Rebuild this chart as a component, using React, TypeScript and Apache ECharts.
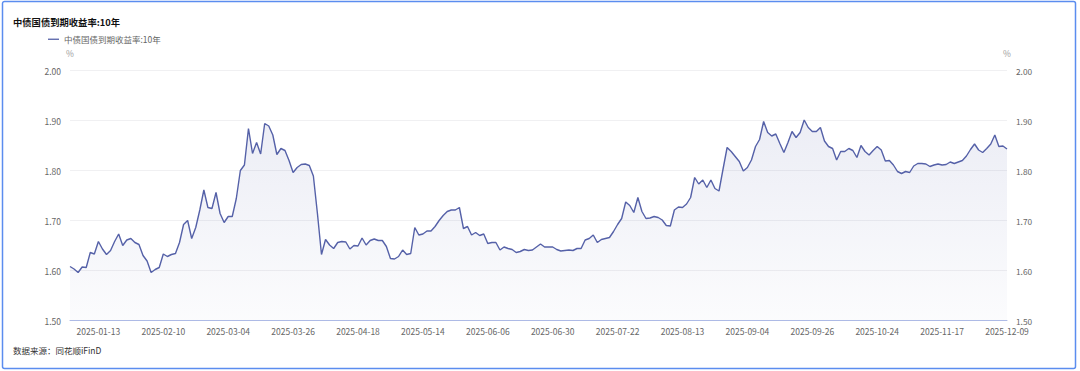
import React, { useEffect, useRef } from "react";
import * as echarts from "echarts";

const TITLE = "中债国债到期收益率:10年";
const SERIES_NAME = "中债国债到期收益率:10年";
const SOURCE = "数据来源：同花顺iFinD";

// Trading calendar 2025 (China interbank): holidays and make-up working days
const HOLIDAYS = [
  "2025-01-01",
  "2025-01-28", "2025-01-29", "2025-01-30", "2025-01-31", "2025-02-03", "2025-02-04",
  "2025-04-04",
  "2025-05-01", "2025-05-02", "2025-05-05",
  "2025-06-02",
  "2025-10-01", "2025-10-02", "2025-10-03", "2025-10-06", "2025-10-07", "2025-10-08",
];
const MAKEUP_DAYS = ["2025-01-26", "2025-02-08", "2025-04-27", "2025-09-28", "2025-10-11"];
const START_DATE = "2025-01-02";
const END_DATE = "2025-12-09";

const Y_MIN = 1.5;
const Y_MAX = 2.0;
const Y_INTERVAL = 0.1;

const yields = [
  1.608, 1.603, 1.596, 1.607, 1.606, 1.636, 1.633, 1.658, 1.643, 1.632,
  1.640, 1.658, 1.673, 1.650, 1.661, 1.664, 1.656, 1.652, 1.630, 1.619,
  1.596, 1.602, 1.606, 1.633, 1.628, 1.632, 1.634, 1.656, 1.692, 1.700,
  1.664, 1.686, 1.721, 1.761, 1.726, 1.724, 1.756, 1.714, 1.696, 1.708,
  1.708, 1.744, 1.800, 1.811, 1.884, 1.834, 1.856, 1.833, 1.894, 1.889,
  1.871, 1.832, 1.844, 1.840, 1.820, 1.796, 1.806, 1.812, 1.813, 1.810,
  1.789, 1.714, 1.632, 1.662, 1.651, 1.644, 1.656, 1.658, 1.657, 1.643,
  1.650, 1.649, 1.665, 1.651, 1.660, 1.663, 1.660, 1.660, 1.648, 1.624,
  1.623, 1.628, 1.641, 1.632, 1.634, 1.686, 1.671, 1.673, 1.679, 1.679,
  1.688, 1.700, 1.710, 1.718, 1.721, 1.721, 1.726, 1.684, 1.688, 1.671,
  1.676, 1.670, 1.673, 1.654, 1.656, 1.656, 1.641, 1.647, 1.644, 1.642,
  1.636, 1.638, 1.642, 1.640, 1.641, 1.647, 1.653, 1.647, 1.647, 1.647,
  1.642, 1.639, 1.640, 1.641, 1.640, 1.644, 1.644, 1.661, 1.664, 1.671,
  1.656, 1.662, 1.664, 1.666, 1.678, 1.692, 1.704, 1.737, 1.730, 1.716,
  1.746, 1.718, 1.704, 1.705, 1.708, 1.706, 1.701, 1.690, 1.689, 1.721,
  1.727, 1.726, 1.733, 1.746, 1.786, 1.773, 1.781, 1.766, 1.781, 1.764,
  1.759, 1.803, 1.846, 1.838, 1.828, 1.818, 1.799, 1.806, 1.821, 1.848,
  1.862, 1.898, 1.876, 1.869, 1.873, 1.854, 1.836, 1.856, 1.878, 1.866,
  1.876, 1.901, 1.886, 1.878, 1.878, 1.886, 1.859, 1.848, 1.844, 1.821,
  1.838, 1.838, 1.844, 1.840, 1.826, 1.850, 1.838, 1.831, 1.840, 1.848,
  1.841, 1.819, 1.820, 1.811, 1.798, 1.794, 1.798, 1.796, 1.809, 1.814,
  1.814, 1.813, 1.808, 1.811, 1.813, 1.811, 1.812, 1.817, 1.814, 1.817,
  1.820, 1.829, 1.842, 1.853, 1.841, 1.836, 1.844, 1.853, 1.871, 1.848,
  1.849, 1.843,
];

function pad(n: number) {
  return n < 10 ? "0" + n : "" + n;
}

function buildTradingDays(): string[] {
  const out: string[] = [];
  const d = new Date(START_DATE + "T00:00:00Z");
  const end = new Date(END_DATE + "T00:00:00Z");
  while (d.getTime() <= end.getTime()) {
    const s = d.getUTCFullYear() + "-" + pad(d.getUTCMonth() + 1) + "-" + pad(d.getUTCDate());
    const wd = d.getUTCDay();
    const weekend = wd === 0 || wd === 6;
    if ((!weekend && HOLIDAYS.indexOf(s) < 0) || MAKEUP_DAYS.indexOf(s) >= 0) out.push(s);
    d.setUTCDate(d.getUTCDate() + 1);
  }
  return out;
}

const dates = buildTradingDays();
const LABEL_STEP = 16;
const LAST = dates.length - 1;

const FONT = "'Noto Sans CJK SC', 'Noto Sans', sans-serif";
const LINE_COLOR = "#5561a8";

export default function App() {
  const ref = useRef<HTMLDivElement>(null);

  useEffect(() => {
    if (!ref.current) return;
    const chart = echarts.init(ref.current, null, { renderer: "svg" });
    const yAxisCommon = {
      type: "value",
      min: Y_MIN,
      max: Y_MAX,
      interval: Y_INTERVAL,
      name: "%",
      nameGap: 13,
      nameTextStyle: { color: "#9a9a9a", fontSize: 8.5, fontFamily: FONT },
      axisLine: { show: false },
      axisTick: { show: false },
    };
    const yLabel = {
      color: "#666",
      fontSize: 8.5,
      fontFamily: FONT,
      margin: 9,
      formatter: (v: number) => v.toFixed(2),
    };
    chart.setOption({
      animation: false,
      backgroundColor: "#ffffff",
      title: {
        text: TITLE,
        left: 8,
        top: 12,
        textStyle: { fontSize: 9.3, fontWeight: "bold", color: "#111", fontFamily: FONT },
      },
      legend: {
        left: 43,
        top: 30,
        icon: "rect",
        itemWidth: 11,
        itemHeight: 1.3,
        itemGap: 10,
        textStyle: { fontSize: 8.5, color: "#666", fontFamily: FONT },
        data: [SERIES_NAME],
      },
      grid: { left: 70, right: 73, top: 70.5, bottom: 50.5, containLabel: false },
      xAxis: {
        type: "category",
        data: dates,
        boundaryGap: false,
        axisLine: { lineStyle: { color: "#aebbe6", width: 1 } },
        axisTick: { show: false },
        axisLabel: {
          color: "#666",
          fontSize: 8.5,
          fontFamily: FONT,
          margin: 6,
          interval: (idx: number) => idx <= LAST && (LAST - idx) % LABEL_STEP === 0,
        },
        splitLine: { show: false },
      },
      yAxis: [
        {
          ...yAxisCommon,
          position: "left",
          axisLabel: yLabel,
          splitLine: { show: true, lineStyle: { color: "#f0f0f2", width: 1 } },
        },
        {
          ...yAxisCommon,
          position: "right",
          axisLabel: { ...yLabel, fontSize: 8.3, padding: [0, 0, 2, 0] },
          splitLine: { show: false },
        },
      ],
      series: [
        {
          name: SERIES_NAME,
          type: "line",
          data: yields,
          yAxisIndex: 0,
          showSymbol: false,
          symbol: "none",
          lineStyle: { color: LINE_COLOR, width: 1.4 },
          itemStyle: { color: LINE_COLOR },
          areaStyle: {
            color: new echarts.graphic.LinearGradient(0, 0, 0, 1, [
              { offset: 0, color: "rgba(85,97,168,0.16)" },
              { offset: 1, color: "rgba(85,97,168,0.03)" },
            ]),
          },
        },
      ],
      graphic: [
        {
          type: "text",
          left: 13,
          top: 346,
          style: { text: SOURCE, fontSize: 8.5, fill: "#333", fontFamily: FONT },
        },
        {
          type: "rect",
          shape: { x: 2.5, y: 1.5, width: 1073, height: 367, r: 2 },
          style: { fill: "none", stroke: "#5b8def", lineWidth: 1.5 },
          silent: true,
        },
      ],
    });
    return () => chart.dispose();
  }, []);

  return (
    <div
      ref={ref}
      style={{ position: "fixed", left: 0, top: 0, width: 1080, height: 371, background: "#fff" }}
    />
  );
}
